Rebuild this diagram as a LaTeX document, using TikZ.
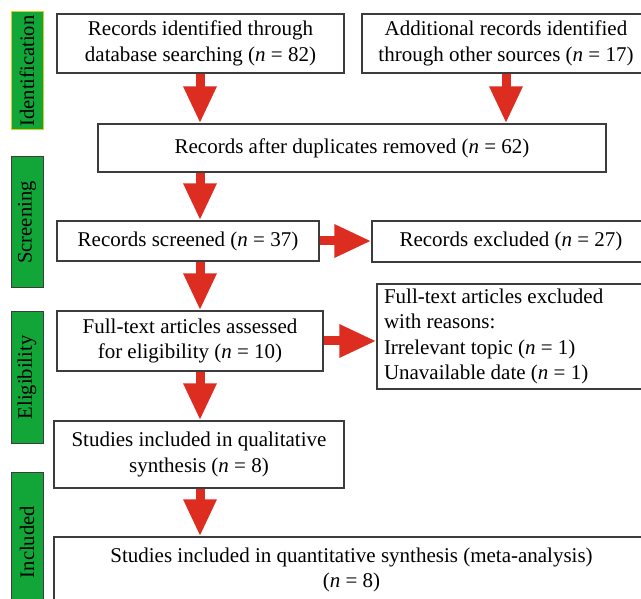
\documentclass[tikz,border=0pt]{standalone}
\usepackage{fontspec}
\setmainfont{Liberation Serif}
\usetikzlibrary{arrows.meta}
\definecolor{boxgreen}{RGB}{18,165,56}
\definecolor{identborder}{RGB}{214,208,20}
\definecolor{arrowred}{RGB}{221,44,32}
\definecolor{boxline}{RGB}{60,60,60}
\tikzset{
  flowbox/.style={draw=boxline, line width=1.3pt, fill=white, inner sep=0pt, align=center,
    font=\fontsize{21}{25.4}\selectfont},
  stagebox/.style={draw=boxline, line width=1pt, fill=boxgreen, inner sep=0pt,
    minimum width=32pt},
  stagetext/.style={rotate=90, inner sep=0pt, font=\fontsize{20.6}{24}\selectfont},
  bigarrow/.style={draw=arrowred, line width=9pt, -{Triangle[width=31pt,length=37pt]}, color=arrowred}
}
\newcommand{\nn}{\textit{n}}
\begin{document}
\begin{tikzpicture}[x=1pt,y=-1pt]
\useasboundingbox (0,0) rectangle (641,599);
\clip (0,0) rectangle (641,599);
% stage labels
\node[stagebox, draw=identborder, minimum height=118pt] (sid) at (27,71) {};
\node[stagetext] (tid) at (sid.center) {Identification};
\node[stagebox, minimum height=131pt] (ssc) at (27,222.5) {};
\node[stagetext] (tsc) at (ssc.center) {Screening};
\node[stagebox, minimum height=131pt] (sel) at (27,377.5) {};
\node[stagetext] (tel) at (sel.center) {Eligibility};
\node[stagebox, minimum height=140pt] (sin) at (27,542) {};
\node[stagetext] (tin) at (sin.center) {Included};
% boxes
\node[flowbox, minimum width=287pt, minimum height=59pt] (b1) at (200.5,43.5)
  {Records identified through\\database searching (\nn{} = 82)};
\node[flowbox, minimum width=288pt, minimum height=59pt] (b2) at (506,43.5)
  {Additional records identified\\through other sources (\nn{} = 17)};
\node[flowbox, minimum width=508pt, minimum height=48pt] (b3) at (352,148)
  {Records after duplicates removed (\nn{} = 62)};
\node[flowbox, minimum width=262pt, minimum height=40pt] (b4) at (188,241)
  {Records screened (\nn{} = 37)};
\node[flowbox, minimum width=278pt, minimum height=41pt] (b5) at (511,241.5)
  {Records excluded (\nn{} = 27)};
\node[flowbox, minimum width=266pt, minimum height=60pt] (b6) at (190,341)
  {Full-text articles assessed\\for eligibility (\nn{} = 10)};
\node[flowbox, minimum width=273pt, minimum height=105pt, align=flush left, text width=259pt] (b7) at (513.5,336.5)
  {Full-text articles excluded\\with reasons:\\Irrelevant topic (\nn{} = 1)\\Unavailable date (\nn{} = 1)};
\node[flowbox, minimum width=290pt, minimum height=67pt] (b8) at (199,454.5)
  {Studies included in qualitative\\synthesis (\nn{} = 8)};
\node[flowbox, minimum width=595pt, minimum height=66pt] (b9) at (351.5,570)
  {Studies included in quantitative synthesis (meta-analysis)\\(\nn{} = 8)};
% arrows
\coordinate (c1) at (200,0);
\coordinate (c2) at (506,0);
\draw[bigarrow] (c1 |- b1.south) -- (c1 |- b3.north);
\draw[bigarrow] (c2 |- b2.south) -- (c2 |- b3.north);
\draw[bigarrow] (c1 |- b3.south) -- (c1 |- b4.north);
\draw[bigarrow] (b4.east) -- (b4.east -| b5.west);
\draw[bigarrow] (c1 |- b4.south) -- (c1 |- b6.north);
\draw[bigarrow] (b6.east) -- (b6.east -| b7.west);
\draw[bigarrow] (c1 |- b6.south) -- (c1 |- b8.north);
\draw[bigarrow] (c1 |- b8.south) -- (c1 |- b9.north);
\end{tikzpicture}
\end{document}
